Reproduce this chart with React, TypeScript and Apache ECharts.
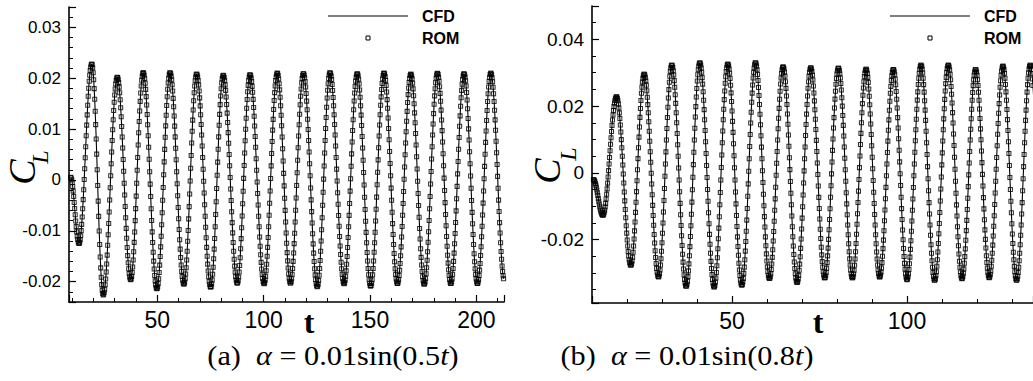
import React, { useEffect, useRef } from "react";
import * as echarts from "echarts";

// ---- Panel (a): alpha = 0.01 sin(0.5 t) ----
const leftStart = { t: 9.3, v: 0.0005 };
const leftPeakT = [19.2, 31.2, 43.4, 56.0, 68.5, 81.0, 93.6, 106.4, 118.7, 131.2, 144.0, 156.6, 169.2, 181.7, 194.2, 206.8];
const leftPeakV = [0.0228, 0.0202, 0.0211, 0.0211, 0.0208, 0.0206, 0.0207, 0.021, 0.0209, 0.0211, 0.0209, 0.021, 0.0208, 0.021, 0.0209, 0.021];
const leftTroughT = [13.2, 24.6, 37.5, 49.8, 62.5, 75.1, 87.6, 100.2, 112.6, 125.2, 137.8, 150.3, 162.9, 175.5, 188.0, 200.5, 213.2];
const leftTroughV = [-0.0125, -0.0226, -0.0196, -0.0214, -0.0205, -0.0211, -0.0203, -0.0204, -0.0203, -0.021, -0.0204, -0.0209, -0.0204, -0.0205, -0.0204, -0.0204, -0.0198];
const leftEndT = 213;

// ---- Panel (b): alpha = 0.01 sin(0.8 t) ----
const rightStart = { t: 10.4, v: -0.002 };
const rightPeakT = [17.0, 24.9, 32.8, 40.8, 48.8, 56.7, 64.6, 72.5, 80.4, 88.3, 96.1, 104.0, 111.8, 119.6, 127.4, 135.2];
const rightPeakV = [0.0228, 0.0296, 0.0323, 0.033, 0.0326, 0.033, 0.0318, 0.0315, 0.0314, 0.0311, 0.031, 0.0323, 0.0323, 0.031, 0.032, 0.0323];
const rightTroughT = [13.1, 21.1, 29.0, 36.9, 44.9, 52.8, 60.7, 68.6, 76.5, 84.4, 92.2, 100.0, 107.9, 115.7, 123.5, 131.3, 139.1];
const rightTroughV = [-0.0127, -0.0277, -0.0312, -0.034, -0.0342, -0.0337, -0.0317, -0.0329, -0.0315, -0.0315, -0.0312, -0.032, -0.0322, -0.0317, -0.0314, -0.0322, -0.032];
const rightEndT = 137;

// sampling steps of the ROM markers
const leftStep = 0.235;
const rightStep = 0.14;

const xTicksLeft = [50, 100, 150, 200];
const yTicksLeft = [-0.02, -0.01, 0, 0.01, 0.02, 0.03];
const xTicksRight = [50, 100];
const yTicksRight = [-0.02, 0, 0.02, 0.04];

const captionA = ["(a)", "α", "0.01sin(0.5", "t", ")"];
const captionB = ["(b)", "α", "0.01sin(0.8", "t", ")"];

function buildCurve(
  start: { t: number; v: number },
  peakT: number[],
  peakV: number[],
  troughT: number[],
  troughV: number[],
  tEnd: number,
  dt: number
): number[][] {
  const ext: number[][] = [[start.t, start.v]];
  peakT.forEach((t, i) => ext.push([t, peakV[i]]));
  troughT.forEach((t, i) => ext.push([t, troughV[i]]));
  ext.sort((a, b) => a[0] - b[0]);
  const pts: number[][] = [];
  let k = 0;
  for (let t = start.t; t <= tEnd + 1e-9; t += dt) {
    while (k < ext.length - 2 && t > ext[k + 1][0]) k++;
    const [t0, v0] = ext[k];
    const [t1, v1] = ext[k + 1];
    const f = Math.min(1, Math.max(0, (t - t0) / (t1 - t0)));
    pts.push([t, v0 + ((v1 - v0) * (1 - Math.cos(Math.PI * f))) / 2]);
  }
  return pts;
}

const SANS = "'Liberation Sans', Arial, sans-serif";
const SERIF = "'Liberation Serif', 'Times New Roman', serif";

function fmt(list: number[]) {
  return (v: number) => {
    const hit = list.find((x) => Math.abs(x - v) < 1e-9);
    if (hit === undefined) return "";
    if (Math.abs(hit) < 1e-12) return "0";
    return String(hit);
  };
}

function xAxis(gridIndex: number, min: number, max: number, split: number, ticks: number[], fs: number) {
  return {
    type: "value",
    gridIndex,
    min,
    max,
    splitNumber: split,
    axisLine: { show: true, onZero: false, lineStyle: { color: "#000", width: 1.6 } },
    axisTick: { show: true, inside: true, length: 7, lineStyle: { color: "#000", width: 1.2 } },
    minorTick: { show: true, splitNumber: 5, length: 4, lineStyle: { color: "#000", width: 1 } },
    splitLine: { show: false },
    minorSplitLine: { show: false },
    axisLabel: {
      color: "#000",
      fontFamily: SANS,
      fontSize: fs,
      margin: 6,
      showMinLabel: false,
      showMaxLabel: false,
      formatter: fmt(ticks),
    },
  };
}

function yAxis(gridIndex: number, min: number, max: number, minorSplit: number, ticks: number[], fs: number) {
  return {
    type: "value",
    gridIndex,
    min,
    max,
    splitNumber: 5,
    axisLine: { show: true, onZero: false, lineStyle: { color: "#000", width: 1.6 } },
    axisTick: { show: true, inside: true, length: 7, lineStyle: { color: "#000", width: 1.2 } },
    minorTick: { show: true, splitNumber: minorSplit, length: 4, lineStyle: { color: "#000", width: 1 } },
    splitLine: { show: false },
    minorSplitLine: { show: false },
    axisLabel: {
      color: "#000",
      fontFamily: SANS,
      fontSize: fs,
      margin: 8,
      showMinLabel: false,
      showMaxLabel: false,
      formatter: fmt(ticks),
    },
  };
}

function caption(parts: string[], cx: number, cy: number) {
  return {
    type: "text",
    x: cx,
    y: cy,
    scaleX: 1.12,
    style: {
      text: `{n|${parts[0]}  }{i|${parts[1]}}{n| = ${parts[2]}}{i|${parts[3]}}{n|${parts[4]}}`,
      align: "center",
      verticalAlign: "middle",
      fill: "#000",
      rich: {
        n: { fontFamily: SERIF, fontSize: 27, fill: "#000" },
        i: { fontFamily: SERIF, fontSize: 27, fontStyle: "italic", fill: "#000" },
      },
    },
  };
}

function legend(x0: number) {
  return [
    { type: "line", shape: { x1: x0, y1: 16, x2: x0 + 80, y2: 16 }, style: { stroke: "#000", lineWidth: 1.2 } },
    { type: "rect", shape: { x: x0 + 38, y: 36, width: 4, height: 4 }, style: { stroke: "#000", lineWidth: 1, fill: "#fff" } },
    {
      type: "text",
      x: x0 + 94,
      y: 16,
      style: { text: "CFD", fontFamily: SANS, fontWeight: "bold", fontSize: 16, fill: "#000", align: "left", verticalAlign: "middle" },
    },
    {
      type: "text",
      x: x0 + 94,
      y: 38,
      style: { text: "ROM", fontFamily: SANS, fontWeight: "bold", fontSize: 16, fill: "#000", align: "left", verticalAlign: "middle" },
    },
  ];
}

function cl(cx: number, cy: number, lx: number, ly: number) {
  return [
    {
      type: "text",
      x: cx,
      y: cy,
      rotation: Math.PI / 2,
      style: { text: "C", fontFamily: SERIF, fontStyle: "italic", fontSize: 38, fill: "#000", align: "center", verticalAlign: "middle" },
    },
    {
      type: "text",
      x: lx,
      y: ly,
      rotation: Math.PI / 2,
      style: { text: "L", fontFamily: SERIF, fontStyle: "italic", fontSize: 24, fill: "#000", align: "center", verticalAlign: "middle" },
    },
  ];
}

export default function App() {
  const ref = useRef<HTMLDivElement>(null);
  useEffect(() => {
    if (!ref.current) return;
    const chart = echarts.init(ref.current, null, { renderer: "svg" });
    const leftData = buildCurve(leftStart, leftPeakT, leftPeakV, leftTroughT, leftTroughV, leftEndT, leftStep);
    const rightData = buildCurve(rightStart, rightPeakT, rightPeakV, rightTroughT, rightTroughV, rightEndT, rightStep);
    const sym = {
      type: "scatter",
      symbol: "rect",
      symbolSize: 4,
      itemStyle: { color: "rgba(255,255,255,0)", borderColor: "#000", borderWidth: 1.05 },
      emphasis: { disabled: true },
      silent: true,
      z: 2,
    };
    const ln = {
      type: "line",
      showSymbol: false,
      lineStyle: { color: "#000", width: 1.1 },
      emphasis: { disabled: true },
      silent: true,
      z: 3,
    };
    chart.setOption({
      animation: false,
      backgroundColor: "#fff",
      grid: [
        { left: 69, top: 7, width: 435, height: 295, containLabel: false },
        { left: 592, top: 6, width: 441, height: 297, containLabel: false },
      ],
      xAxis: [xAxis(0, 8.5, 213, 5, xTicksLeft, 23), xAxis(1, 10, 136, 3, xTicksRight, 23)],
      yAxis: [yAxis(0, -0.024, 0.034, 5, yTicksLeft, 17), yAxis(1, -0.039, 0.05, 4, yTicksRight, 19)],
      series: [
        { ...sym, name: "ROM", xAxisIndex: 0, yAxisIndex: 0, data: leftData },
        { ...ln, name: "CFD", xAxisIndex: 0, yAxisIndex: 0, data: leftData },
        { ...sym, name: "ROM", xAxisIndex: 1, yAxisIndex: 1, data: rightData },
        { ...ln, name: "CFD", xAxisIndex: 1, yAxisIndex: 1, data: rightData },
      ],
      graphic: [
        ...legend(328),
        ...legend(890),
        ...cl(22, 172, 40, 157),
        ...cl(547, 171, 568, 154),
        {
          type: "text",
          x: 309,
          y: 322,
          style: { text: "t", fontFamily: SERIF, fontWeight: "bold", fontSize: 32, fill: "#000", align: "center", verticalAlign: "middle" },
        },
        {
          type: "text",
          x: 818,
          y: 322,
          style: { text: "t", fontFamily: SERIF, fontWeight: "bold", fontSize: 32, fill: "#000", align: "center", verticalAlign: "middle" },
        },
        caption(captionA, 333, 356),
        caption(captionB, 687, 356),
      ],
    });
    return () => chart.dispose();
  }, []);
  return (
    <div style={{ position: "absolute", left: 0, top: 0, width: 1033, height: 381, overflow: "hidden" }}>
      <div ref={ref} style={{ width: 1033, height: 381 }} />
    </div>
  );
}
